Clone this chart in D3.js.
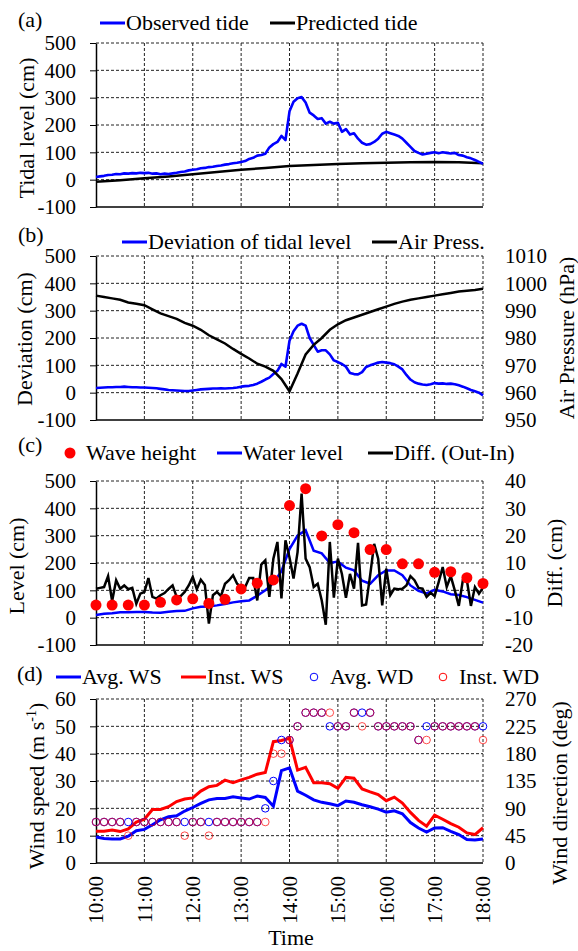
<!DOCTYPE html>
<html>
<head>
<meta charset="utf-8">
<script src="https://cdn.jsdelivr.net/npm/d3@7"></script>
<style>
  body { margin: 0; background: #fff; }
  svg text { font-family: "Liberation Serif", "Times New Roman", Times, serif; fill: #000; }
</style>
</head>
<body>
<div id="chart"></div>
<script>
// time is counted in minutes after 10:00
var hourLabels = ["10:00", "11:00", "12:00", "13:00", "14:00", "15:00", "16:00", "17:00", "18:00"];

// (a) tidal level (cm), observed every 5 min, predicted every 30 min
var observedTide = [10, 12, 14, 17, 18, 21, 20, 23, 22, 24, 23, 25,
  24, 25, 22, 23, 20, 22, 21, 23, 25, 28, 30, 34,
  36, 38, 42, 43, 46, 47, 50, 52, 55, 57, 60, 62,
  65, 68, 76, 80, 88, 90, 95, 118, 130, 138, 160, 145,
  250, 285, 298, 302, 282, 245, 235, 222, 225, 205, 212, 205,
  208, 175, 185, 165, 170, 150, 135, 128, 130, 138, 150, 168,
  175, 170, 165, 160, 150, 135, 120, 105, 98, 92, 95, 98,
  100, 97, 100, 98, 96, 98, 90, 88, 82, 78, 72, 65,
  58];
var predictedTide = [-8, -2, 5, 12, 20, 28, 36, 43, 50, 54, 57, 60, 62, 64, 65, 64, 60];

// (b) deviation of tidal level (cm) every 5 min, air pressure (hPa) every 10 min
var deviation = [17, 18, 19, 20, 20, 21, 21, 22, 21, 20, 20, 19,
  19, 18, 17, 16, 14, 12, 10, 9, 8, 7, 6, 6,
  8, 10, 12, 13, 14, 15, 15, 16, 15, 16, 17, 19,
  22, 24, 25, 28, 33, 40, 48, 55, 68, 80, 105, 95,
  190, 225, 245, 252, 245, 200, 175, 150, 155, 155, 140, 118,
  112, 105, 95, 72, 68, 67, 75, 94, 100, 105, 110, 112,
  110, 108, 104, 95, 85, 65, 48, 38, 33, 30, 28, 31,
  35, 33, 34, 32, 33, 31, 27, 22, 16, 10, 5, 0,
  -10];
var airPress = [995.5, 995, 994.5, 994, 993, 992.5, 992, 990.5, 989, 988,
  987, 985.5, 984.5, 983, 981, 979.5, 978, 976, 974.2, 972.5,
  970.6, 969.5, 968, 965, 960.5, 967, 974, 977.5, 980, 983,
  985, 986.5, 987.5, 988.5, 989.5, 990.5, 991.5, 992.5, 993.3, 994,
  994.5, 995, 995.5, 996, 996.5, 997, 997.3, 997.6, 998];

// (c) wave height every 20 min, water level every 10 min, diff (out-in) every 5 min
var waveHeight = [46, 46, 46, 46, 56, 65, 69, 52, 67, 105, 126, 138, 410,
  472, 299, 340, 311, 249, 249, 197, 197, 166, 168, 146, 125];
var waterLevel = [10, 14, 16, 20, 20, 21, 21, 19, 18, 22,
  24, 25, 34, 40, 41, 45, 50, 56, 60, 63,
  80, 100, 127, 170, 251, 300, 320, 245, 235, 200,
  205, 183, 173, 135, 124, 155, 173, 173, 155, 118,
  98, 89, 102, 96, 86, 83, 75, 65, 55];
var diffOutIn = [0.6, 0.9, 1.2, 5.2, -3.9, 3.7, 0.6, 1.8, 0.4, 0.9, -4.9, -1.2,
  -0.6, 4.5, -2.4, -3.0, -1.8, -1.0, 0.5, 1.8, -2.4, -2.1, -0.6, 1.8,
  4.9, 0.4, 3.9, 2.0, -12.2, -1.8, -0.6, -2.1, 2.4, 3.7, 5.5, 2.4,
  1.2, 1.2, 4.5, 4.5, -3.7, 9.4, 11.0, -2.4, 11.6, 17.7, -3.0, 18.3,
  12.0, 4.3, 14.0, 35.4, 11.6, 8.5, 1.2, 2.4, -3.7, -12.6, 17.7, -2.7,
  11.6, 6.0, -2.7, 6.0, 0.6, 17.4, -5.5, -5.2, 5.5, 17.0, 11.6, -5.5,
  7.9, -1.8, 0.6, 0.4, 0.6, 1.8, 5.2, 3.7, 0.9, 0.6, -2.4, -0.9,
  -2.1, 3.0, 8.5, 1.2, 5.2, 0.0, -5.7, 3.7, 3.7, -5.7, 1.2, -1.2,
  1.0];

// (d) wind speed (m/s) and direction (deg), every 10 min
var avgWS = [9.5, 9.0, 8.8, 8.8, 9.8, 11.8, 12.3, 14.0, 15.8, 16.9,
  17.3, 19.0, 20.3, 21.8, 23.1, 23.6, 23.6, 24.2, 23.8, 23.4,
  24.5, 24.0, 20.8, 33.8, 34.8, 26.3, 24.8, 23.1, 22.2, 21.7,
  21.0, 22.7, 22.2, 21.3, 20.6, 19.7, 18.6, 19.1, 18.0, 14.8,
  12.8, 11.3, 12.8, 12.9, 11.6, 10.4, 8.6, 8.4, 8.8];
var instWS = [11.6, 11.6, 12.1, 11.5, 12.5, 15.0, 16.0, 19.6, 19.6, 20.6,
  22.5, 23.4, 23.8, 26.3, 27.9, 28.4, 30.3, 29.4, 30.4, 31.3,
  32.5, 33.1, 44.4, 44.8, 45.6, 34.0, 35.0, 29.4, 29.4, 29.0,
  27.3, 31.3, 31.0, 27.1, 26.0, 25.0, 22.8, 24.1, 21.9, 18.5,
  15.6, 13.5, 17.5, 16.0, 14.4, 13.1, 11.0, 10.4, 12.9];
var avgWD = [67.5, 67.5, 67.5, 67.5, 67.5, 67.5, 67.5, 67.5, 67.5, 67.5,
  67.5, 67.5, 67.5, 67.5, 67.5, 67.5, 67.5, 67.5, 67.5, 67.5,
  67.5, 90, 135, 202.5, 202.5, 225, 247.5, 247.5, 247.5, 225,
  225, 225, 247.5, 247.5, 247.5, 225, 225, 225, 225, 225,
  202.5, 225, 225, 225, 225, 225, 225, 225, 225];
var instWD = [67.5, 67.5, 67.5, 67.5, 45, 67.5, 67.5, 67.5, 67.5, 67.5,
  67.5, 45, 67.5, 67.5, 45, 67.5, 67.5, 67.5, 67.5, 67.5,
  67.5, 67.5, 180, 180, 202.5, 225, 247.5, 247.5, 247.5, 247.5,
  225, 225, 247.5, 225, 247.5, 225, 225, 225, 225, 225,
  202.5, 202.5, 225, 225, 225, 225, 225, 225, 202.5];

// tick values
var levelTicks = [-100, 0, 100, 200, 300, 400, 500];
var pressTicks = [950, 960, 970, 980, 990, 1000, 1010];
var diffTicks = [-20, -10, 0, 10, 20, 30, 40];
var speedTicks = [0, 10, 20, 30, 40, 50, 60];
var dirTicks = [0, 45, 90, 135, 180, 225, 270];

// turn a list of values sampled every `step` minutes into points
function toPoints(values, step) {
  return values.map(function(v, i) { return {t: i * step, v: v}; });
}

var width = 578, height = 951;
var left = 96, right = 483, panelH = 164;
var tickFont = 21, labelFont = 22;

var svg = d3.select("#chart").append("svg")
    .attr("width", width)
    .attr("height", height);
svg.append("rect").attr("width", width).attr("height", height).attr("fill", "#fff");

var x = d3.scaleLinear().domain([0, 480]).range([left, right]);

// draws frame, grid and axes of one panel, returns its group
function drawPanel(top, yLeft, leftTicks, yRight, rightTicks) {
  var g = svg.append("g");
  var bottom = top + panelH;

  // horizontal dashed gridlines (top one doubles as the border)
  g.selectAll(".hgrid").data(leftTicks.slice(1)).enter().append("line")
      .attr("x1", left).attr("x2", right)
      .attr("y1", function(d) { return yLeft(d); })
      .attr("y2", function(d) { return yLeft(d); })
      .attr("stroke", "#222").attr("stroke-width", 1)
      .attr("stroke-dasharray", "3,2");

  // vertical dashed gridlines at each hour
  g.selectAll(".vgrid").data(d3.range(60, 481, 60)).enter().append("line")
      .attr("x1", function(d) { return x(d); })
      .attr("x2", function(d) { return x(d); })
      .attr("y1", top).attr("y2", bottom)
      .attr("stroke", "#222").attr("stroke-width", 1)
      .attr("stroke-dasharray", "3,2");

  // solid bottom axis
  g.append("line")
      .attr("x1", left).attr("x2", right)
      .attr("y1", bottom).attr("y2", bottom)
      .attr("stroke", "#000").attr("stroke-width", 1.3);

  // left axis
  var la = g.append("g")
      .attr("transform", "translate(" + left + ",0)")
      .call(d3.axisLeft(yLeft).tickValues(leftTicks).tickSize(6).tickSizeOuter(0)
        .tickPadding(14).tickFormat(function(d) { return String(d); }));
  la.select(".domain").attr("stroke-width", 1.5);
  la.selectAll("text").attr("font-size", tickFont);

  // right axis (labels only)
  if (yRight) {
    var ra = g.append("g")
        .attr("transform", "translate(" + right + ",0)")
        .call(d3.axisRight(yRight).tickValues(rightTicks).tickSize(0)
          .tickPadding(22).tickFormat(function(d) { return String(d); }));
    ra.select(".domain").remove();
    ra.selectAll("text").attr("font-size", tickFont);
  }
  return g;
}

function vLabel(text, xPos, yPos) {
  return svg.append("text")
      .attr("transform", "translate(" + xPos + "," + yPos + ") rotate(-90)")
      .attr("text-anchor", "middle")
      .attr("font-size", labelFont)
      .text(text);
}

function legendLine(xPos, yPos, color, text) {
  svg.append("line")
      .attr("x1", xPos).attr("x2", xPos + 25)
      .attr("y1", yPos).attr("y2", yPos)
      .attr("stroke", color).attr("stroke-width", 3);
  svg.append("text")
      .attr("x", xPos + 26).attr("y", yPos + 7)
      .attr("font-size", labelFont)
      .text(text);
}

function panelTag(text, xPos, yPos) {
  svg.append("text").attr("x", xPos).attr("y", yPos)
      .attr("font-size", labelFont).text(text);
}

var line = d3.line()
    .x(function(d) { return x(d.t); });

// ---------- (a) ----------
var topA = 43;
var yA = d3.scaleLinear().domain([-100, 500]).range([topA + panelH, topA]);
var gA = drawPanel(topA, yA, levelTicks);
line.y(function(d) { return yA(d.v); });
gA.append("path").datum(toPoints(predictedTide, 30))
    .attr("fill", "none").attr("stroke", "#000").attr("stroke-width", 2.5)
    .attr("d", line);
gA.append("path").datum(toPoints(observedTide, 5))
    .attr("fill", "none").attr("stroke", "#0000ff").attr("stroke-width", 2.6)
    .attr("stroke-linejoin", "round")
    .attr("d", line);
panelTag("(a)", 18, 27);
legendLine(100, 23, "#0000ff", "Observed tide");
legendLine(270, 23, "#000", "Predicted tide");
vLabel("Tidal level (cm)", 34, 128);

// ---------- (b) ----------
var topB = 256;
var yB = d3.scaleLinear().domain([-100, 500]).range([topB + panelH, topB]);
var yB2 = d3.scaleLinear().domain([950, 1010]).range([topB + panelH, topB]);
var gB = drawPanel(topB, yB, levelTicks, yB2, pressTicks);
gB.append("path").datum(toPoints(deviation, 5))
    .attr("fill", "none").attr("stroke", "#0000ff").attr("stroke-width", 2.6)
    .attr("stroke-linejoin", "round")
    .attr("d", line.y(function(d) { return yB(d.v); }));
gB.append("path").datum(toPoints(airPress, 10))
    .attr("fill", "none").attr("stroke", "#000").attr("stroke-width", 2.5)
    .attr("d", line.y(function(d) { return yB2(d.v); }));
panelTag("(b)", 18, 242);
legendLine(122, 242, "#0000ff", "Deviation of tidal level");
legendLine(372, 242, "#000", "Air Press.");
vLabel("Deviation (cm)", 32, 339);
vLabel("Air Pressure (hPa)", 574, 338);

// ---------- (c) ----------
var topC = 481;
var yC = d3.scaleLinear().domain([-100, 500]).range([topC + panelH, topC]);
var yC2 = d3.scaleLinear().domain([-20, 40]).range([topC + panelH, topC]);
var gC = drawPanel(topC, yC, levelTicks, yC2, diffTicks);
gC.append("path").datum(toPoints(waterLevel, 10))
    .attr("fill", "none").attr("stroke", "#0000ff").attr("stroke-width", 2.5)
    .attr("d", line.y(function(d) { return yC(d.v); }));
gC.append("path").datum(toPoints(diffOutIn, 5))
    .attr("fill", "none").attr("stroke", "#000").attr("stroke-width", 2.5)
    .attr("d", line.y(function(d) { return yC2(d.v); }));
gC.selectAll(".wave").data(toPoints(waveHeight, 20)).enter().append("circle")
    .attr("cx", function(d) { return x(d.t); })
    .attr("cy", function(d) { return yC(d.v); })
    .attr("r", 5.5).attr("fill", "#ff0000");
panelTag("(c)", 18, 452);
svg.append("circle").attr("cx", 70).attr("cy", 453).attr("r", 5.5).attr("fill", "#ff0000");
svg.append("text").attr("x", 86).attr("y", 460).attr("font-size", labelFont).text("Wave height");
legendLine(217, 453, "#0000ff", "Water level");
legendLine(368, 453, "#000", "Diff. (Out-In)");
vLabel("Level  (cm)", 24, 566);
vLabel("Diff.  (cm)", 562, 563);

// ---------- (d) ----------
var topD = 699;
var yD = d3.scaleLinear().domain([0, 60]).range([topD + panelH, topD]);
var yD2 = d3.scaleLinear().domain([0, 270]).range([topD + panelH, topD]);
var gD = drawPanel(topD, yD, speedTicks, yD2, dirTicks);
gD.append("path").datum(toPoints(instWS, 10))
    .attr("fill", "none").attr("stroke", "#ff0000").attr("stroke-width", 3)
    .attr("d", line.y(function(d) { return yD(d.v); }));
gD.append("path").datum(toPoints(avgWS, 10))
    .attr("fill", "none").attr("stroke", "#0000ff").attr("stroke-width", 3)
    .attr("d", line.y(function(d) { return yD(d.v); }));
gD.selectAll(".awd").data(toPoints(avgWD, 10)).enter().append("circle")
    .attr("cx", function(d) { return x(d.t); })
    .attr("cy", function(d) { return yD2(d.v); })
    .attr("r", 3.8).attr("fill", "none").attr("stroke", "#0000ff").attr("stroke-width", 1);
gD.selectAll(".iwd").data(toPoints(instWD, 10)).enter().append("circle")
    .attr("cx", function(d) { return x(d.t); })
    .attr("cy", function(d) { return yD2(d.v); })
    .attr("r", 3.8).attr("fill", "none").attr("stroke", "#ff0000")
    .attr("stroke-opacity", 0.7).attr("stroke-width", 1);

// rotated hour labels under (d)
svg.selectAll(".hour").data(hourLabels).enter().append("text")
    .attr("transform", function(d, i) {
      return "translate(" + x(i * 60) + "," + (topD + panelH + 13) + ") rotate(-90)";
    })
    .attr("text-anchor", "end")
    .attr("dy", "0.35em")
    .attr("font-size", tickFont)
    .text(function(d) { return d; });

svg.append("text").attr("x", 291).attr("y", 945)
    .attr("text-anchor", "middle").attr("font-size", labelFont).text("Time");

panelTag("(d)", 17, 681);
legendLine(56, 677, "#0000ff", "Avg. WS");
legendLine(181, 677, "#ff0000", "Inst. WS");
svg.append("circle").attr("cx", 314).attr("cy", 677).attr("r", 3.8)
    .attr("fill", "none").attr("stroke", "#0000ff");
svg.append("text").attr("x", 330).attr("y", 684).attr("font-size", labelFont).text("Avg. WD");
svg.append("circle").attr("cx", 443).attr("cy", 677).attr("r", 3.8)
    .attr("fill", "none").attr("stroke", "#ff0000");
svg.append("text").attr("x", 459).attr("y", 684).attr("font-size", labelFont).text("Inst. WD");

var ws = vLabel("", 44, 786);
ws.append("tspan").text("Wind speed (m s");
ws.append("tspan").attr("font-size", 14).attr("dy", -8).text("-1");
ws.append("tspan").attr("dy", 8).text(")");
vLabel("Wind direction (deg)", 567, 793);
</script>
</body>
</html>
